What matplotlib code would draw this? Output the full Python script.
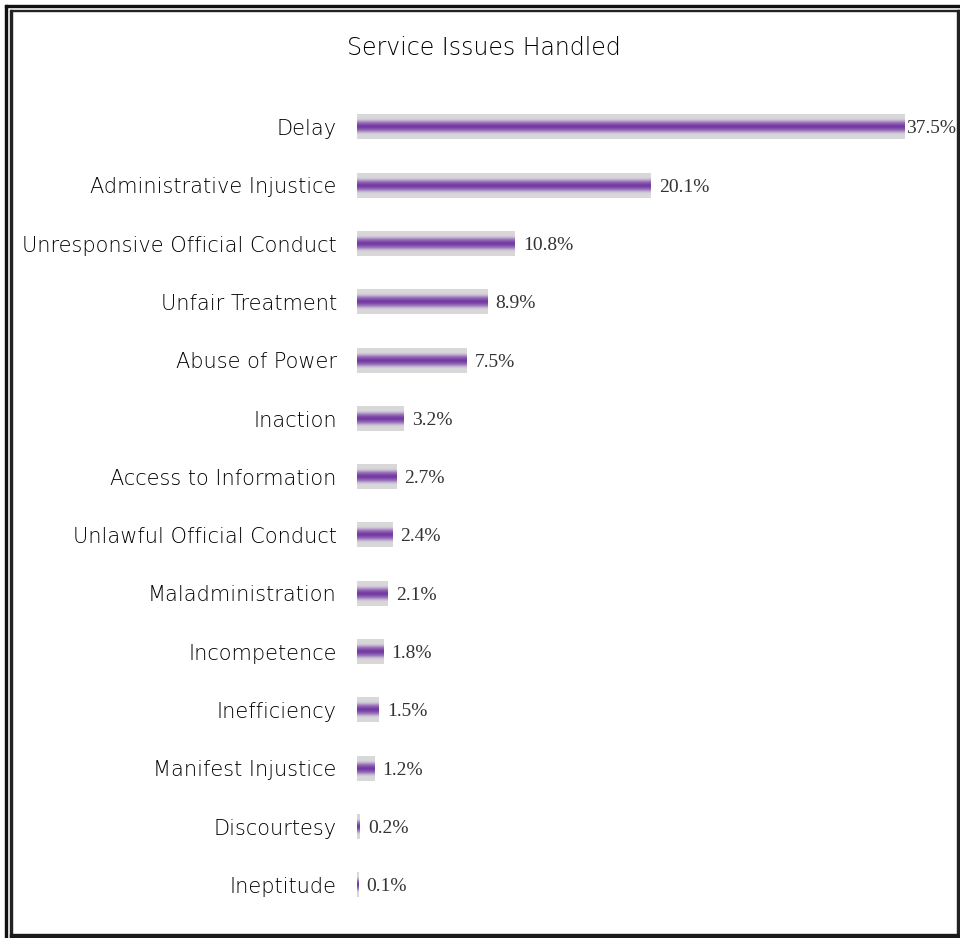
import numpy as np
import matplotlib
matplotlib.use("Agg")
import matplotlib.pyplot as plt
from matplotlib.colors import LinearSegmentedColormap
from matplotlib.patches import Rectangle

categories = ["Delay", "Administrative Injustice", "Unresponsive Official Conduct",
              "Unfair Treatment", "Abuse of Power", "Inaction", "Access to Information",
              "Unlawful Official Conduct", "Maladministration", "Incompetence",
              "Inefficiency", "Manifest Injustice", "Discourtesy", "Ineptitude"]
values = [37.5, 20.1, 10.8, 8.9, 7.5, 3.2, 2.7, 2.4, 2.1, 1.8, 1.5, 1.2, 0.2, 0.1]
labels = ["37.5%", "20.1%", "10.8%", "8.9%", "7.5%", "3.2%", "2.7%", "2.4%",
          "2.1%", "1.8%", "1.5%", "1.2%", "0.2%", "0.1%"]

fig = plt.figure(figsize=(9.6, 9.38), dpi=100)
ax = fig.add_axes([357/960, 1-914/938, (905-357)/960, (914-98)/938])

# vertical gradient: gray edges, purple centre
cmap = LinearSegmentedColormap.from_list("bar", [
    (0.0, "#d9d9d9"), (0.18, "#d8d6da"), (0.26, "#c2b2d0"),
    (0.34, "#9a72bb"), (0.44, "#7a45a6"), (0.5, "#7434a4"), (0.56, "#7a45a6"),
    (0.66, "#9a72bb"), (0.74, "#c2b2d0"), (0.82, "#d8d6da"), (1.0, "#d9d9d9")])
grad = np.linspace(0, 1, 64).reshape(-1, 1)

n = len(categories)
ypos = np.arange(n)
h = 0.21
for y, v in zip(ypos, values):
    ax.imshow(grad, cmap=cmap, aspect="auto", interpolation="bilinear",
              extent=(0, v, y + h, y - h), zorder=2)

for i, (y, v, t) in enumerate(zip(ypos, values, labels)):
    off = 1 if i == 0 else 8
    ax.annotate(t, (v, y + 0.03), xytext=(off, 0), textcoords="offset pixels",
                va="center", ha="left", fontsize=14, family="Liberation Serif",
                color="#333333", annotation_clip=False)

ax.set_xlim(0, 37.5)
ax.set_ylim(n - 0.5, -0.5)
ax.set_yticks(ypos)
ax.set_yticklabels(categories, fontsize=15, family="DejaVu Sans",
                   fontweight="light", color="#000000")
ax.tick_params(axis="y", length=0, pad=14.5)
ax.set_xticks([])
for s in ax.spines.values():
    s.set_visible(False)

fig.text(484/960, 1-48/938, "Service Issues Handled", ha="center", va="center",
         fontsize=17, family="DejaVu Sans", fontweight="light", color="#000000")

# frame
def bar_px(x0, y0, w, hgt, col):
    fig.patches.append(Rectangle((x0/960, 1-(y0+hgt)/938), w/960, hgt/938,
                                 transform=fig.transFigure, color=col))

bar_px(5, 5, 2, 938, "#111111")
bar_px(5, 5, 955, 2, "#111111")
bar_px(10, 10, 1.5, 938, "#222222")
bar_px(10, 10, 950, 1.5, "#222222")
bar_px(957, 10, 3, 938, "#222222")
bar_px(10, 934, 950, 4, "#1a1a1a")

fig.savefig("out.png", dpi=100)
